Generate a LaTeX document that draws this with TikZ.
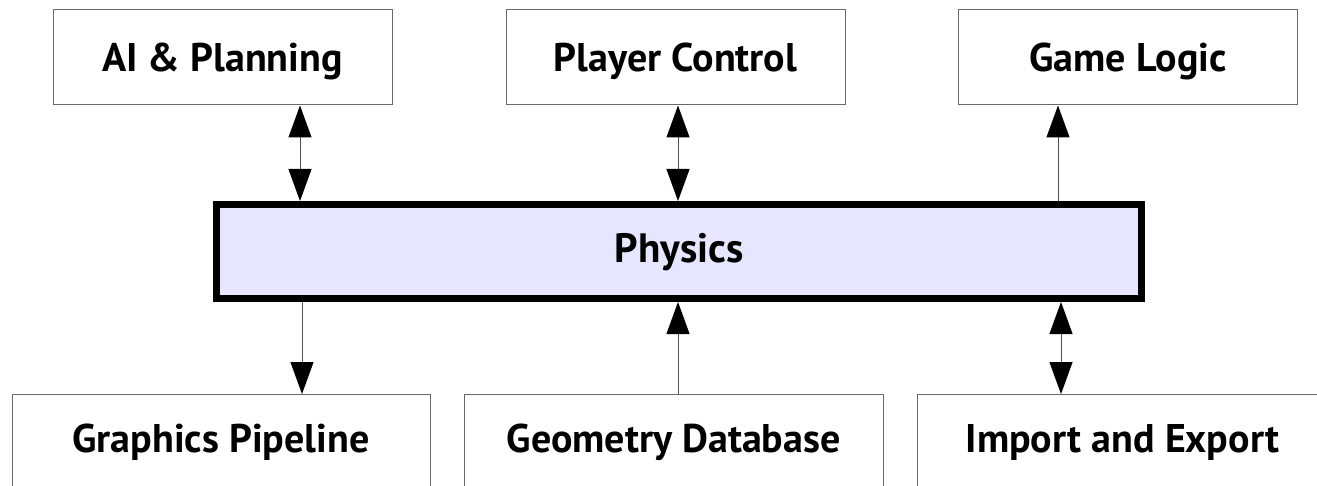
\documentclass[tikz,border=0pt]{standalone}
\usepackage{fontspec}
\setmainfont{PT Sans}
\usetikzlibrary{arrows.meta,positioning}

\definecolor{physfill}{RGB}{230,230,255}
\definecolor{randgrau}{RGB}{105,105,105}
\definecolor{pfeilgrau}{RGB}{80,80,80}

\begin{document}
\begin{tikzpicture}[x=1pt,y=1pt,
	modul/.style={draw=randgrau,line width=1pt,rectangle,fill=white,
		minimum width=339pt,minimum height=95pt,inner sep=0pt,
		text height=28.4pt,text depth=0pt,
		font=\fontsize{40}{48}\selectfont\bfseries},
	unten/.style={modul,text height=28pt,text depth=8pt},
	kern/.style={draw=black,line width=7pt,rectangle,fill=physfill,
		minimum width=925pt,minimum height=94pt,inner sep=0pt,
		text height=28pt,text depth=5pt,
		font=\fontsize{41}{48}\selectfont\bfseries},
	pfeil/.style={draw=pfeilgrau,line width=1pt},
	spitze/.tip={Triangle[length=32pt,width=23pt,color=black]}]

\clip (0,0) rectangle (1317,-486);
\fill[white] (0,0) rectangle (1317,-486);

%-------------------------------------------------------------------------------
% Physics
%-------------------------------------------------------------------------------
\node (physics) [kern] at (679,-251.5) {Physics};

%-------------------------------------------------------------------------------
% upper row
%-------------------------------------------------------------------------------
\node (ai)     [modul] at (222.5,-57.5)  {AI \& Planning};
\node (player) [modul] at (675.5,-57.5)  {Player Control};
\node (logic)  [modul] at (1128,-57.5)   {Game Logic};

\draw [pfeil,spitze-spitze] ([xshift=77.5pt]ai.south) -- ([xshift=77.5pt]ai.south |- physics.north);
\draw [pfeil,spitze-spitze] ([xshift=2.5pt]player.south) -- ([xshift=2.5pt]player.south |- physics.north);
\draw [pfeil,-spitze] ([xshift=-70pt]logic.south |- physics.north) -- ([xshift=-70pt]logic.south);

%-------------------------------------------------------------------------------
% lower row
%-------------------------------------------------------------------------------
\node (graphics) [unten,minimum width=418pt] at (221,-442)    {Graphics Pipeline};
\node (geometry) [unten,minimum width=419pt] at (673.5,-442)  {Geometry Database};
\node (export)   [unten,minimum width=411pt] at (1122.5,-442) {Import and Export};

\draw [pfeil,-spitze] ([xshift=81pt]graphics.north |- physics.south) -- ([xshift=81pt]graphics.north);
\draw [pfeil,-spitze] ([xshift=4.5pt]geometry.north) -- ([xshift=4.5pt]geometry.north |- physics.south);
\draw [pfeil,spitze-spitze] ([xshift=-61.5pt]export.north |- physics.south) -- ([xshift=-61.5pt]export.north);
\end{tikzpicture}
\end{document}
